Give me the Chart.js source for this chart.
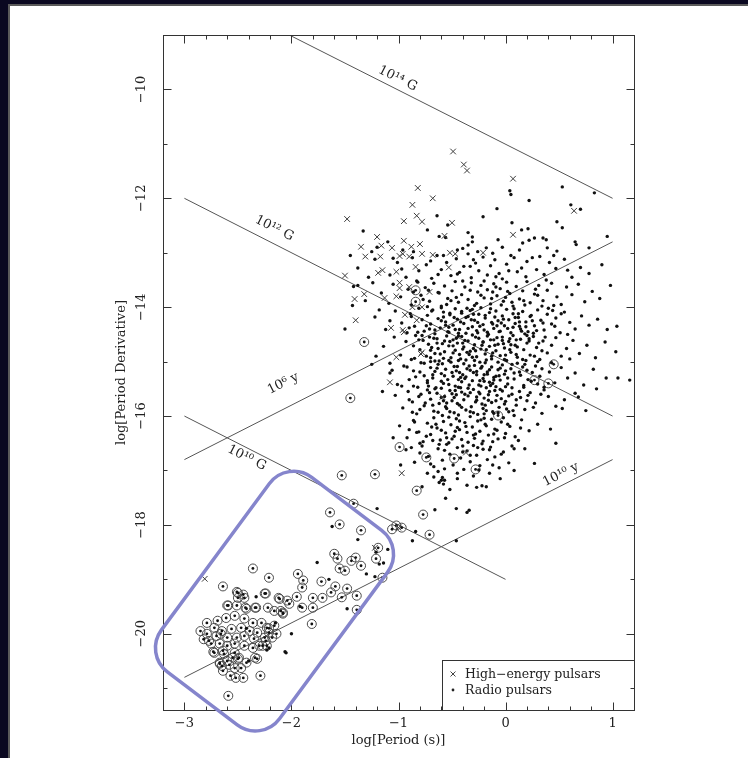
<!DOCTYPE html>
<html>
<head>
<meta charset="utf-8">
<title>P - Pdot diagram</title>
<script src="https://cdn.jsdelivr.net/npm/chart.js@4.4.0/dist/chart.umd.min.js"></script>
<style>
  html, body { margin: 0; padding: 0; width: 748px; height: 758px; overflow: hidden; background: #0a0820; }
  #panel { position: absolute; left: 8px; top: 4px; width: 740px; height: 754px; background: #fff;
           border-left: 2px solid #5a5a5a; border-top: 2px solid #5a5a5a; box-sizing: border-box; }
  canvas { display: block; }
</style>
</head>
<body>
<div id="panel"><canvas id="ppdot" width="738" height="752"></canvas></div>
<script>
// axes
const xRange = [-3.2, 1.2];
const yRange = [-21.4, -9.0];
const xTickValues = [-3, -2, -1, 0, 1];
const yTickValues = [-20, -18, -16, -14, -12, -10];

// magnetic field and age lines: [logP, logPdot] end points
const lineLabels = ['10\u00b9\u2074 G', '10\u00b9\u00b2 G', '10\u00b9\u2070 G', '10\u2076 y', '10\u00b9\u2070 y'];
const lineStarts = [[-2.02, -9.0], [-3.0, -12.0], [-3.0, -16.0], [-3.0, -16.8], [-3.0, -20.8]];
const lineEnds = [[1.0, -12.0], [1.0, -16.0], [0.0, -19.0], [1.0, -12.8], [1.0, -16.8]];
const labelAtLogP = [-1.05, -2.22, -2.38, -1.98, 0.56];

// high-energy pulsars (x)
const highEnergyPulsars = [
  [-0.49,-11.14],[-0.39,-11.38],[-0.36,-11.49],[0.07,-11.64],[-0.82,-11.81],[-0.68,-12.0],[-0.87,-12.12],
  [0.64,-12.23],[-1.48,-12.38],[-0.95,-12.42],[-0.83,-12.32],[-0.78,-12.43],[-0.5,-12.45],[0.07,-12.67],
  [-1.2,-12.71],[-1.35,-12.89],[-1.16,-12.87],[-1.06,-12.91],[-0.95,-12.78],[-0.88,-12.89],[-0.8,-12.84],
  [-0.99,-13.06],[-0.96,-13.02],[-1.31,-13.07],[-1.17,-13.07],[-0.9,-13.07],[-0.78,-13.02],[-0.68,-13.04],
  [-0.57,-12.69],[-0.52,-13.0],[-0.47,-13.02],[-0.21,-13.0],[-0.84,-13.26],[-1.15,-13.32],[-1.19,-13.37],
  [-1.5,-13.42],[-1.02,-13.35],[-0.53,-13.27],[-1.41,-13.85],[-1.32,-13.76],[-1.4,-14.24],[-1.07,-14.38],
  [-0.95,-14.46],[-1.02,-14.92],[-1.08,-15.38],[-0.99,-13.55],[-0.99,-13.65],[-1.02,-13.8],[-1.13,-13.83],
  [-0.9,-13.63],[-0.78,-14.0],[-0.71,-13.72],[-0.94,-14.14],[-0.78,-14.83],[-0.83,-14.24],[-0.97,-17.05],
  [-2.81,-18.99],[-0.37,-16.67],[-0.79,-14.86],[-0.96,-14.42],[-0.87,-14.0],[-0.59,-15.65],[-1.22,-18.42],
  [-1.0,-18.05]
];

// radio pulsars (dots)
const radioPulsars = [
  // upper sparse part
  [0.53,-11.79],[0.83,-11.9],[0.04,-11.86],[0.05,-11.93],[0.22,-12.04],[0.61,-12.12],[-0.08,-12.19],
  [-0.21,-12.34],[0.06,-12.45],[0.48,-12.43],[-0.64,-12.32],[-0.54,-12.49],[-0.35,-12.63],[-0.31,-12.71],
  [0.53,-12.54],[0.7,-12.2],
  [0.15,-12.58],[0.21,-12.56],[0.35,-12.73],[0.38,-12.76],[0.65,-12.8],[0.66,-12.85],[0.27,-12.73],
  [0.22,-12.77],[0.16,-12.82],[0.78,-12.91],[0.39,-12.91],[-0.03,-12.9],[-0.07,-12.76],[-0.18,-12.91],
  [-0.31,-12.8],[-0.35,-12.86],[-0.73,-12.58],[-0.62,-12.7],[-0.56,-12.72],[-1.1,-12.8],[-0.96,-12.95],
  [-0.86,-12.98],[0.95,-12.7],[-1.25,-12.98],[-0.45,-12.95],[0.48,-12.97],
  [-1.45,-13.05],[-1.33,-12.6],[-1.38,-13.6],[-1.5,-14.4],[-1.43,-13.97],[-1.2,-12.9],[-1.28,-13.45],[-1.18,-14.05],
  // -13.0 .. -13.5
  [-1.38,-13.28],[-1.22,-13.12],[-1.08,-13.41],[-1.01,-13.18],[-0.93,-13.45],[-0.87,-13.09],[-0.81,-13.33],
  [-0.74,-13.22],[-0.69,-13.47],[-0.64,-13.05],[-0.6,-13.31],[-0.55,-13.18],[-0.51,-13.42],[-0.46,-13.11],
  [-0.43,-13.36],[-0.39,-13.25],[-0.35,-13.02],[-0.32,-13.46],[-0.28,-13.19],[-0.25,-13.33],[-0.21,-13.08],
  [-0.17,-13.41],[-0.14,-13.24],[-0.1,-13.13],[-0.06,-13.38],[-0.03,-13.48],[0.01,-13.21],[0.05,-13.05],
  [0.08,-13.09],[0.11,-13.35],[0.15,-13.28],[0.19,-13.44],[0.25,-13.09],[0.29,-13.31],[0.32,-13.07],
  [0.36,-13.4],[0.41,-13.18],[0.47,-13.29],[0.55,-13.12],[0.62,-13.45],[0.7,-13.27],[0.78,-13.38],
  [0.9,-13.22],[-0.97,-13.3],[-0.3,-13.13],
  [-0.7,-13.15],[-0.45,-13.39],[-0.2,-13.52],[0.03,-13.33],[0.2,-13.16],[-0.58,-13.05],[-0.33,-13.25],
  [-0.09,-13.44],[0.38,-13.5],[-0.82,-13.54],[-0.26,-12.98],[0.13,-12.95],[0.58,-13.32],[-0.63,-13.4],
  [-0.12,-13.01],[0.45,-13.05],[-1.05,-13.1],[-0.4,-12.92],
  // -13.5 .. -14.0
  [-1.42,-13.62],[-1.31,-13.88],[-1.24,-13.55],[-1.16,-13.74],[-1.09,-13.93],[-1.05,-13.58],[-0.98,-13.81],
  [-0.91,-13.67],[-0.88,-13.96],[-0.83,-13.52],[-0.79,-13.78],[-0.75,-13.64],[-0.71,-13.89],[-0.67,-13.56],
  [-0.63,-13.73],[-0.6,-13.98],[-0.57,-13.61],[-0.54,-13.84],[-0.5,-13.7],[-0.47,-13.53],[-0.44,-13.91],
  [-0.41,-13.77],[-0.38,-13.63],[-0.35,-13.86],[-0.32,-13.55],[-0.29,-13.97],[-0.26,-13.72],[-0.23,-13.6],
  [-0.2,-13.83],[-0.17,-13.68],[-0.14,-13.94],[-0.11,-13.57],[-0.08,-13.79],[-0.05,-13.66],[-0.02,-13.89],
  [0.01,-13.54],[0.04,-13.75],[0.07,-13.98],[0.1,-13.62],[0.13,-13.85],[0.16,-13.7],[0.2,-13.53],
  [0.23,-13.92],[0.27,-13.76],[0.31,-13.6],[0.35,-13.88],[0.39,-13.69],[0.43,-13.56],[0.48,-13.81],
  [0.52,-13.95],[0.57,-13.63],[0.62,-13.77],[0.68,-13.58],[0.74,-13.9],[0.81,-13.71],[0.88,-13.84],
  [-0.73,-13.99],[-0.4,-13.52],[-0.12,-13.72],[0.18,-13.96],[-0.55,-13.95],[0.0,-13.82],[0.3,-13.78],
  [-0.86,-13.72],[0.45,-13.97],[0.98,-13.6],
  [-0.77,-13.86],[-0.52,-14.11],[-0.33,-13.69],[-0.14,-14.03],[0.06,-13.91],[0.23,-14.17],[-0.62,-13.74],
  [-0.41,-14.08],[-0.09,-13.63],[0.12,-14.12],[-0.27,-13.93],[-0.58,-14.18],[0.34,-13.98],[-0.46,-13.82],
  [-0.19,-14.15],[0.02,-13.71],[-0.69,-14.07],[0.28,-13.67],[-0.37,-14.19],[-0.04,-13.96],[0.44,-14.06],
  [-0.88,-14.17],[-0.23,-13.78],[0.17,-13.88],[-0.51,-13.88],[-0.13,-13.84],[0.09,-14.19],[-0.72,-13.69],
  [0.52,-14.12],[-0.31,-14.04],
  // -14.0 .. -14.5
  [-1.22,-14.18],[-1.12,-14.41],[-1.03,-14.07],[-0.97,-14.29],[-0.92,-14.47],[-0.89,-14.12],[-0.85,-14.35],
  [-0.81,-14.02],[-0.78,-14.23],[-0.76,-14.44],[-0.73,-14.15],[-0.7,-14.31],[-0.68,-14.05],[-0.66,-14.49],
  [-0.63,-14.21],[-0.61,-14.38],[-0.58,-14.09],[-0.56,-14.27],[-0.54,-14.45],[-0.52,-14.14],[-0.49,-14.33],
  [-0.47,-14.03],[-0.45,-14.22],[-0.43,-14.41],[-0.41,-14.11],[-0.39,-14.3],[-0.37,-14.48],[-0.35,-14.17],
  [-0.33,-14.06],[-0.31,-14.36],[-0.29,-14.24],[-0.27,-14.43],[-0.25,-14.13],[-0.23,-14.01],[-0.21,-14.32],
  [-0.19,-14.2],[-0.17,-14.46],[-0.15,-14.1],[-0.13,-14.28],[-0.11,-14.39],[-0.09,-14.07],[-0.07,-14.25],
  [-0.05,-14.44],[-0.03,-14.16],[-0.01,-14.34],[0.01,-14.04],[0.03,-14.23],[0.05,-14.47],[0.07,-14.12],
  [0.09,-14.3],[0.12,-14.19],[0.14,-14.4],[0.16,-14.08],[0.19,-14.27],[0.21,-14.45],[0.24,-14.15],
  [0.27,-14.34],[0.3,-14.05],[0.33,-14.24],[0.36,-14.42],[0.39,-14.13],[0.43,-14.31],[0.47,-14.2],
  [0.51,-14.47],[0.55,-14.09],[0.6,-14.28],[0.65,-14.4],[0.71,-14.16],[0.78,-14.33],[0.86,-14.22],
  [0.95,-14.41],[-0.6,-14.01],[-0.44,-14.48],[-0.26,-14.28],[-0.1,-14.18],[0.02,-14.39],[0.18,-14.49],
  [-0.71,-14.4],[-0.36,-14.02],[-0.2,-14.42],[0.08,-14.03],[-0.53,-14.37],[0.25,-14.25],[-0.82,-14.46],
  [0.4,-14.02],[-0.04,-14.29],[-0.48,-14.19],[0.13,-14.35],[-0.3,-14.13],[-1.08,-14.25],[1.04,-14.35],
  [-0.74,-14.34],[-0.57,-14.62],[-0.42,-14.27],[-0.28,-14.55],[-0.12,-14.31],[0.04,-14.58],[0.19,-14.36],
  [0.31,-14.66],[-0.66,-14.42],[-0.49,-14.71],[-0.35,-14.39],[-0.21,-14.64],[-0.06,-14.45],[0.11,-14.73],
  [0.26,-14.48],[-0.81,-14.6],[-0.6,-14.25],[-0.44,-14.53],[-0.3,-14.76],[-0.16,-14.5],[-0.02,-14.22],
  [0.15,-14.44],[0.37,-14.55],[-0.7,-14.79],[-0.53,-14.46],[-0.38,-14.61],[-0.24,-14.35],[-0.1,-14.7],
  [0.07,-14.37],[0.22,-14.62],[-0.9,-14.38],[-0.64,-14.66],[-0.47,-14.41],[-0.32,-14.23],[-0.18,-14.78],
  [-0.03,-14.61],[0.13,-14.27],[0.29,-14.43],[0.46,-14.35],[-0.78,-14.52],[-0.56,-14.33],[-0.4,-14.77],
  [-0.26,-14.47],[-0.08,-14.34],[0.05,-14.69],[0.2,-14.52],[0.58,-14.5],[-0.67,-14.57],[-0.14,-14.6],
  [0.35,-14.29],
  // -14.5 .. -15.0
  [-1.14,-14.72],[-1.04,-14.55],[-0.98,-14.88],[-0.93,-14.63],[-0.88,-14.96],[-0.84,-14.52],[-0.8,-14.78],
  [-0.77,-14.61],[-0.74,-14.9],[-0.71,-14.55],[-0.69,-14.74],[-0.66,-14.85],[-0.64,-14.58],[-0.62,-14.99],
  [-0.59,-14.67],[-0.57,-14.82],[-0.55,-14.53],[-0.53,-14.71],[-0.51,-14.93],[-0.49,-14.6],[-0.47,-14.79],
  [-0.45,-14.66],[-0.43,-14.87],[-0.41,-14.54],[-0.39,-14.73],[-0.37,-14.97],[-0.35,-14.62],[-0.33,-14.81],
  [-0.31,-14.51],[-0.29,-14.69],[-0.27,-14.91],[-0.25,-14.57],[-0.23,-14.77],[-0.21,-14.64],[-0.19,-14.86],
  [-0.17,-14.53],[-0.15,-14.72],[-0.13,-14.95],[-0.11,-14.6],[-0.09,-14.8],[-0.07,-14.68],[-0.05,-14.89],
  [-0.03,-14.55],[-0.01,-14.75],[0.01,-14.98],[0.03,-14.63],[0.05,-14.83],[0.07,-14.52],[0.09,-14.7],
  [0.11,-14.92],[0.14,-14.59],[0.17,-14.78],[0.2,-14.66],[0.23,-14.88],[0.26,-14.54],[0.29,-14.74],
  [0.32,-14.96],[0.35,-14.62],[0.39,-14.84],[0.43,-14.7],[0.47,-14.56],[0.52,-14.9],[0.57,-14.76],
  [0.63,-14.61],[0.69,-14.85],[0.76,-14.7],[0.84,-14.93],[0.93,-14.64],[-0.72,-14.68],[-0.58,-14.94],
  [-0.46,-14.57],[-0.34,-14.87],[-0.22,-14.7],[-0.08,-14.56],[0.04,-14.78],[0.16,-14.96],[-0.63,-14.76],
  [-0.4,-14.66],[-0.18,-14.97],[0.1,-14.6],[-0.52,-14.63],[-0.28,-14.8],[-0.02,-14.67],[0.22,-14.58],
  [-0.86,-14.71],[-0.7,-14.93],[0.34,-14.8],[-0.12,-14.84],[-0.44,-14.98],[0.6,-14.95],[1.03,-14.82],
  [-1.21,-14.9],
  // -15.0 .. -15.5
  [-1.08,-15.21],[-1.01,-15.42],[-0.95,-15.08],[-0.9,-15.33],[-0.86,-15.17],[-0.82,-15.47],[-0.79,-15.02],
  [-0.76,-15.26],[-0.73,-15.39],[-0.7,-15.11],[-0.68,-15.3],[-0.65,-15.48],[-0.63,-15.05],[-0.6,-15.22],
  [-0.58,-15.4],[-0.56,-15.14],[-0.54,-15.33],[-0.51,-15.01],[-0.49,-15.27],[-0.47,-15.45],[-0.45,-15.09],
  [-0.43,-15.2],[-0.41,-15.37],[-0.39,-15.04],[-0.37,-15.28],[-0.35,-15.49],[-0.33,-15.16],[-0.31,-15.35],
  [-0.29,-15.07],[-0.27,-15.24],[-0.25,-15.43],[-0.23,-15.12],[-0.21,-15.31],[-0.19,-15.02],[-0.17,-15.19],
  [-0.15,-15.38],[-0.13,-15.1],[-0.11,-15.29],[-0.09,-15.46],[-0.07,-15.15],[-0.05,-15.34],[-0.03,-15.06],
  [-0.01,-15.23],[0.02,-15.41],[0.05,-15.13],[0.08,-15.32],[0.11,-15.03],[0.14,-15.25],[0.17,-15.44],
  [0.2,-15.16],[0.24,-15.36],[0.28,-15.08],[0.32,-15.27],[0.36,-15.47],[0.41,-15.19],[0.46,-15.39],
  [0.52,-15.11],[0.58,-15.3],[0.65,-15.21],[0.73,-15.43],[0.82,-15.14],[-0.66,-15.18],[-0.53,-15.42],
  [-0.42,-15.29],[-0.3,-15.2],[-0.18,-15.48],[-0.06,-15.26],[0.06,-15.48],[-0.72,-15.45],[-0.48,-15.09],
  [-0.24,-15.35],[0.0,-15.17],[0.18,-15.05],[-0.6,-15.36],[-0.36,-15.13],[-0.12,-15.4],[-0.84,-15.28],
  [0.3,-15.41],[-0.44,-15.47],[-0.2,-15.24],[1.05,-15.3],[1.16,-15.34],[0.94,-15.3],[-1.06,-15.16],
  [-0.97,-15.45],[-1.08,-15.03],[-1.25,-15.05],
  [-0.76,-15.03],[-0.61,-14.86],[-0.46,-15.17],[-0.31,-14.92],[-0.17,-15.23],[-0.01,-14.96],[0.13,-15.19],
  [0.27,-14.9],[-0.68,-15.24],[-0.53,-14.98],[-0.38,-15.31],[-0.24,-15.01],[-0.09,-15.27],[0.06,-15.05],
  [0.21,-15.33],[-0.85,-14.94],[-0.64,-15.12],[-0.49,-14.84],[-0.34,-15.08],[-0.2,-15.36],[-0.05,-15.12],
  [0.1,-14.87],[0.34,-15.13],[-0.73,-15.35],[-0.57,-15.26],[-0.42,-14.95],[-0.27,-15.18],[-0.13,-14.9],
  [0.02,-15.3],[0.16,-15.1],[-0.92,-15.1],[-0.66,-14.99],[-0.5,-15.2],[-0.36,-14.83],[-0.22,-15.09],
  [-0.07,-15.01],[0.08,-15.21],[0.25,-15.2],[0.43,-15.02],[-0.8,-15.19],[-0.59,-15.04],[-0.44,-15.33],
  [-0.29,-14.98],[-0.15,-15.15],[0.0,-14.88],[0.19,-14.98],[-0.7,-15.0],[-0.4,-15.24],[-0.11,-15.34],
  [0.3,-15.0],
  // -15.5 .. -16.0
  [-1.03,-15.62],[-0.96,-15.85],[-0.91,-15.55],[-0.87,-15.74],[-0.83,-15.96],[-0.79,-15.6],[-0.76,-15.81],
  [-0.73,-15.52],[-0.7,-15.69],[-0.67,-15.91],[-0.64,-15.58],[-0.62,-15.77],[-0.59,-15.99],[-0.57,-15.64],
  [-0.55,-15.86],[-0.52,-15.53],[-0.5,-15.72],[-0.48,-15.94],[-0.46,-15.61],[-0.43,-15.8],[-0.41,-15.56],
  [-0.39,-15.7],[-0.37,-15.89],[-0.35,-15.63],[-0.32,-15.83],[-0.3,-15.51],[-0.28,-15.74],[-0.26,-15.97],
  [-0.24,-15.59],[-0.22,-15.78],[-0.2,-15.67],[-0.18,-15.9],[-0.15,-15.55],[-0.13,-15.75],[-0.11,-15.95],
  [-0.08,-15.62],[-0.06,-15.84],[-0.03,-15.54],[0.0,-15.73],[0.03,-15.92],[0.06,-15.6],[0.1,-15.8],
  [0.14,-15.66],[0.18,-15.88],[0.23,-15.57],[0.28,-15.76],[0.34,-15.95],[0.4,-15.64],[0.47,-15.82],
  [0.55,-15.7],[-0.8,-15.88],[-0.6,-15.66],[-0.44,-15.98],[-0.33,-15.57],[-0.21,-15.86],[-0.04,-15.68],
  [0.08,-15.99],[-0.68,-15.8],[-0.5,-15.59],[-0.16,-15.71],[0.2,-15.72],[-0.9,-15.7],[-0.27,-15.65],
  [0.01,-15.87],[0.33,-15.6],[-0.55,-15.76],[-0.1,-15.53],[0.65,-15.58],[0.75,-15.9],[0.68,-15.65],
  [0.85,-15.5],[0.53,-15.86],[-1.15,-15.55],[-0.87,-15.93],
  [-0.71,-15.57],[-0.56,-15.83],[-0.42,-15.48],[-0.27,-15.71],[-0.12,-15.92],[0.03,-15.63],[0.17,-15.47],
  [-0.63,-15.93],[-0.48,-15.66],[-0.34,-15.43],[-0.19,-15.8],[-0.05,-15.51],[0.1,-15.7],[-0.81,-15.64],
  [-0.6,-15.49],[-0.45,-15.77],[-0.3,-15.94],[-0.16,-15.61],[-0.01,-15.78],[0.13,-15.55],[0.26,-15.84],
  [-0.75,-15.76],[-0.52,-15.92],[-0.38,-15.6],[-0.23,-15.45],[-0.09,-15.72],[0.07,-15.9],[-0.66,-15.5],
  [-0.41,-15.84],[-0.25,-15.56],[-0.14,-15.44],[0.21,-15.62],[-0.58,-15.72],[-0.33,-15.92],[-0.07,-15.94],
  [-0.86,-15.45],[0.36,-15.52],[-0.47,-15.53],[-0.2,-15.96],[0.0,-15.46],
  // -16.0 .. -16.5
  [-0.99,-16.18],[-0.92,-16.4],[-0.86,-16.08],[-0.81,-16.29],[-0.77,-16.47],[-0.73,-16.13],[-0.7,-16.34],
  [-0.67,-16.03],[-0.64,-16.22],[-0.61,-16.44],[-0.58,-16.1],[-0.56,-16.31],[-0.53,-16.49],[-0.51,-16.16],
  [-0.48,-16.37],[-0.46,-16.05],[-0.43,-16.25],[-0.41,-16.43],[-0.38,-16.12],[-0.36,-16.3],[-0.33,-16.01],
  [-0.31,-16.2],[-0.29,-16.41],[-0.26,-16.09],[-0.24,-16.28],[-0.21,-16.46],[-0.19,-16.15],[-0.16,-16.35],
  [-0.13,-16.06],[-0.1,-16.24],[-0.07,-16.42],[-0.04,-16.11],[0.0,-16.32],[0.04,-16.19],[0.09,-16.38],
  [0.15,-16.07],[0.22,-16.27],[0.3,-16.15],[-0.6,-16.26],[-0.45,-16.21],[-0.28,-16.33],[-0.12,-16.47],
  [-0.68,-16.45],[-0.35,-16.48],[0.12,-16.45],[-0.2,-16.04],[-0.53,-16.02],[-0.9,-16.25],[-0.02,-16.03],
  [0.42,-16.24],[0.47,-16.5],[-0.85,-16.11],[-0.83,-16.3],[-1.05,-16.4],
  [-0.65,-16.15],[-0.5,-16.42],[-0.37,-16.19],[-0.22,-16.51],[-0.08,-16.26],[0.06,-16.55],[-0.74,-16.37],
  [-0.57,-16.63],[-0.43,-16.09],[-0.3,-16.35],[-0.15,-16.62],[-0.01,-16.4],[0.14,-16.22],[-0.8,-16.68],
  [-0.62,-16.52],[-0.47,-16.28],[-0.33,-16.72],[-0.18,-16.18],[-0.04,-16.7],[-0.55,-16.4],[-0.26,-16.58],
  [-0.11,-16.33],[-0.69,-16.2],[-0.4,-16.55],[0.02,-16.15],[-0.88,-16.58],[-0.23,-16.07],[0.18,-16.6],
  // -16.5 .. -17.0
  [-0.93,-16.62],[-0.85,-16.85],[-0.78,-16.55],[-0.72,-16.74],[-0.67,-16.93],[-0.63,-16.6],[-0.59,-16.81],
  [-0.55,-16.52],[-0.52,-16.7],[-0.49,-16.9],[-0.45,-16.58],[-0.42,-16.77],[-0.39,-16.98],[-0.36,-16.64],
  [-0.33,-16.84],[-0.3,-16.54],[-0.27,-16.72],[-0.24,-16.91],[-0.21,-16.61],[-0.17,-16.8],[-0.14,-16.57],
  [-0.1,-16.75],[-0.06,-16.95],[-0.02,-16.66],[0.03,-16.86],[0.08,-16.6],[-0.57,-16.97],[-0.4,-16.66],
  [-0.25,-16.99],[-0.12,-16.9],[-0.7,-16.88],[0.27,-16.87],[0.08,-17.0],[-0.98,-16.9],[-0.8,-16.5],
  // below -17
  [-0.73,-17.05],[-0.67,-17.12],[-0.63,-17.02],[-0.6,-17.18],[-0.58,-17.25],[-0.62,-17.22],[-0.45,-17.05],
  [-0.45,-17.15],[-0.36,-17.27],[-0.27,-17.31],[-0.22,-17.28],[-0.18,-17.3],[-0.56,-17.51],[-0.46,-17.7],
  [-0.36,-17.77],[-0.34,-17.73],[-0.66,-17.72],[-0.84,-18.12],[-0.87,-18.29],[-0.46,-18.29],[-0.52,-17.35],
  [-0.3,-17.1],[-0.15,-17.05],[-0.05,-17.15],[-0.78,-17.3],[-0.59,-17.13],[-0.57,-17.18],
  // lower left
  [-1.62,-18.03],[-1.38,-18.27],[-1.2,-17.7],[-1.76,-18.69],[-1.21,-18.5],[-1.14,-18.7],[-1.18,-18.72],
  [-2.33,-19.32],[-2.06,-20.33],[-2.21,-20.26],[-1.48,-19.54],[-1.92,-19.5],[-2.42,-19.9],[-2.15,-19.8],
  [-1.22,-18.95],[-2.0,-20.0],[-1.1,-18.45],[-2.4,-20.5],[-1.65,-19.0],[-1.3,-18.9],[-2.23,-20.3],
  [-2.05,-20.35]
];

// binary radio pulsars (circled dots)
const binaryPulsars = [
  [-0.84,-13.69],[-0.84,-13.9],[-1.32,-14.64],[-1.45,-15.67],[0.45,-15.05],[0.27,-15.34],[0.4,-15.4],
  [-0.07,-15.99],[-0.99,-16.57],[-0.74,-16.76],[-0.48,-16.78],[-0.28,-16.98],[-0.83,-17.37],[-1.53,-17.09],
  [-1.22,-17.07],[-0.77,-17.81],[-1.06,-18.08],[-1.02,-18.01],[-0.97,-18.05],[-0.71,-18.18],[-1.42,-17.61],
  [-1.64,-17.77],[-1.55,-17.99],[-1.35,-18.1],[-1.19,-18.42],[-1.6,-18.53],[-1.57,-18.62],[-1.21,-18.62],
  [-1.44,-18.66],[-1.4,-18.6],[-1.35,-18.75],[-1.55,-18.8],[-1.5,-18.84],[-2.36,-18.8],[-1.94,-18.9],
  [-2.21,-18.97],[-1.89,-19.02],[-1.9,-19.15],[-2.64,-19.13],[-1.72,-19.04],[-1.59,-19.13],[-1.48,-19.17],
  [-1.63,-19.24],[-1.53,-19.33],[-1.39,-19.3],[-1.15,-18.97],[-2.24,-19.26],[-2.51,-19.23],[-2.5,-19.34],
  [-2.45,-19.28],[-2.12,-19.34],[-2.04,-19.39],[-1.95,-19.32],[-1.8,-19.34],[-1.71,-19.34],[-2.59,-19.48],
  [-2.43,-19.52],[-2.34,-19.52],[-2.22,-19.52],[-2.1,-19.58],[-2.08,-19.63],[-1.9,-19.52],[-1.8,-19.52],
  [-1.39,-19.56],[-1.81,-19.82],
  [-2.5,-19.25],[-2.25,-19.26],[-2.44,-19.34],[-2.11,-19.36],[-2.02,-19.45],[-2.6,-19.48],[-2.51,-19.48],
  [-2.42,-19.54],[-2.33,-19.52],[-2.16,-19.58],[-2.08,-19.61],[-2.79,-19.8],[-2.69,-19.76],[-2.61,-19.71],
  [-2.53,-19.67],[-2.44,-19.72],[-2.36,-19.8],[-2.28,-19.8],[-2.23,-19.89],[-2.16,-19.85],[-2.72,-19.89],
  [-2.65,-19.95],[-2.56,-19.91],[-2.47,-19.89],[-2.39,-19.95],[-2.32,-19.98],[-2.21,-19.98],[-2.79,-20.0],
  [-2.7,-20.04],[-2.6,-20.07],[-2.51,-20.07],[-2.44,-20.04],[-2.35,-20.09],[-2.25,-20.07],[-2.18,-20.07],
  [-2.77,-20.13],[-2.67,-20.18],[-2.6,-20.22],[-2.53,-20.18],[-2.44,-20.22],[-2.36,-20.26],[-2.27,-20.22],
  [-2.72,-20.35],[-2.63,-20.37],[-2.53,-20.35],[-2.6,-20.5],[-2.5,-20.46],[-2.42,-20.53],[-2.67,-20.53],
  [-2.32,-20.46],[-2.53,-20.63],[-2.65,-20.59],
  [-2.66,-20.0],[-2.75,-20.18],[-2.64,-20.31],[-2.73,-20.33],[-2.55,-20.44],[-2.49,-20.44],[-2.67,-20.55],
  [-2.58,-20.57],[-2.47,-20.63],[-2.34,-20.44],[-2.64,-20.68],[-2.57,-20.77],[-2.52,-20.81],[-2.45,-20.81],
  [-2.29,-20.77],[-2.59,-21.14],[-2.14,-20.0],[-2.24,-20.13],[-2.23,-20.22],[-2.3,-20.22],[-2.21,-19.9],
  [-2.85,-19.95],[-2.82,-20.1]
];

// highlighted region (corners, data units)
const boxCorners = [[-2.037, -16.79], [-0.937, -18.43], [-2.28, -22.01], [-3.38, -20.37]];

const SERIF = '"DejaVu Serif", "Liberation Serif", serif';
const INK = '#222';

function toXY(list) {
    return list.map(p => ({x: p[0], y: p[1]}));
}

function minusSign(v) {
    return String(v).replace('-', '\u2212');
}

// frame with inward ticks, line labels, legend box and highlight
const plotDecor = {
    id: 'plotDecor',
    afterDatasetsDraw(chart) {
        const ctx = chart.ctx;
        const a = chart.chartArea;
        const xs = chart.scales.x;
        const ys = chart.scales.y;
        ctx.save();

        // labels along the field / age lines (negative offset = below the line)
        ctx.fillStyle = INK;
        ctx.font = '13px ' + SERIF;
        ctx.textAlign = 'center';
        ctx.textBaseline = 'middle';
        const labelOffset = [10, 14, -9, 23, 10];
        lineLabels.forEach((txt, i) => {
            const p0 = lineStarts[i], p1 = lineEnds[i];
            const x0 = xs.getPixelForValue(p0[0]), y0 = ys.getPixelForValue(p0[1]);
            const x1 = xs.getPixelForValue(p1[0]), y1 = ys.getPixelForValue(p1[1]);
            const t = (labelAtLogP[i] - p0[0]) / (p1[0] - p0[0]);
            ctx.save();
            ctx.translate(x0 + t * (x1 - x0), y0 + t * (y1 - y0));
            ctx.rotate(Math.atan2(y1 - y0, x1 - x0));
            ctx.fillText(txt, 0, -labelOffset[i]);
            ctx.restore();
        });

        // legend box, bottom right inside the frame
        const lw = 192, lh = 50;
        const lx = a.right - lw, ly = a.bottom - lh;
        ctx.fillStyle = '#fff';
        ctx.fillRect(lx, ly, lw, lh);
        ctx.strokeStyle = '#333';
        ctx.lineWidth = 1;
        ctx.strokeRect(Math.round(lx) + 0.5, Math.round(ly) + 0.5, lw, lh);
        ctx.font = '12.5px ' + SERIF;
        ctx.textAlign = 'left';
        ctx.fillStyle = INK;
        const rows = [chart.data.datasets[0], chart.data.datasets[1]];
        rows.forEach((ds, i) => {
            const cy = ly + 14 + i * 16;
            const cx = lx + 11;
            ctx.strokeStyle = '#444';
            if (i === 0) {
                ctx.beginPath();
                ctx.moveTo(cx - 2.5, cy - 2.5); ctx.lineTo(cx + 2.5, cy + 2.5);
                ctx.moveTo(cx + 2.5, cy - 2.5); ctx.lineTo(cx - 2.5, cy + 2.5);
                ctx.stroke();
            } else {
                ctx.beginPath();
                ctx.arc(cx, cy, 1.4, 0, Math.PI * 2);
                ctx.fillStyle = '#222';
                ctx.fill();
            }
            ctx.fillStyle = INK;
            ctx.fillText(ds.label, lx + 23, cy + 1);
        });

        // frame
        ctx.strokeStyle = '#333';
        ctx.lineWidth = 1;
        const L = Math.round(a.left) + 0.5, R = Math.round(a.right) + 0.5;
        const T = Math.round(a.top) + 0.5, B = Math.round(a.bottom) + 0.5;
        ctx.strokeRect(L, T, R - L, B - T);

        // inward ticks on all four sides
        ctx.beginPath();
        for (let k = Math.ceil(xRange[0] * 5); k <= Math.floor(xRange[1] * 5); k++) {
            const v = k / 5;
            const len = (k % 5 === 0) ? 8 : 4;
            const px = Math.round(xs.getPixelForValue(v)) + 0.5;
            ctx.moveTo(px, B); ctx.lineTo(px, B - len);
            ctx.moveTo(px, T); ctx.lineTo(px, T + len);
        }
        for (let v = Math.ceil(yRange[0]); v <= Math.floor(yRange[1]); v++) {
            const len = (v % 2 === 0) ? 8 : 4;
            const py = Math.round(ys.getPixelForValue(v)) + 0.5;
            ctx.moveTo(L, py); ctx.lineTo(L + len, py);
            ctx.moveTo(R, py); ctx.lineTo(R - len, py);
        }
        ctx.stroke();
        ctx.restore();
    },
    afterDraw(chart) {
        // rounded highlight around the millisecond pulsars
        const ctx = chart.ctx;
        const xs = chart.scales.x;
        const ys = chart.scales.y;
        const pts = boxCorners.map(c => [xs.getPixelForValue(c[0]), ys.getPixelForValue(c[1])]);
        const r = 30;
        ctx.save();
        ctx.strokeStyle = '#8585cc';
        ctx.lineWidth = 3.5;
        ctx.beginPath();
        const n = pts.length;
        const last = pts[n - 1], first = pts[0];
        ctx.moveTo((last[0] + first[0]) / 2, (last[1] + first[1]) / 2);
        for (let i = 0; i < n; i++) {
            const c = pts[i], nx = pts[(i + 1) % n];
            ctx.arcTo(c[0], c[1], nx[0], nx[1], r);
        }
        ctx.closePath();
        ctx.stroke();
        ctx.restore();
    }
};

const lineDatasets = lineLabels.map((lab, i) => ({
    type: 'line',
    label: lab,
    data: toXY([lineStarts[i], lineEnds[i]]),
    showLine: true,
    borderColor: '#555',
    borderWidth: 1,
    pointRadius: 0,
    fill: false
}));

new Chart(document.getElementById('ppdot'), {
    type: 'scatter',
    data: {
        datasets: [
            {
                label: 'High\u2212energy pulsars',
                data: toXY(highEnergyPulsars),
                pointStyle: 'crossRot',
                pointRadius: 4,
                borderColor: '#3a3a3a',
                borderWidth: 1
            },
            {
                label: 'Radio pulsars',
                data: toXY(radioPulsars),
                pointStyle: 'circle',
                pointRadius: 1.7,
                backgroundColor: '#111',
                borderWidth: 0
            },
            {
                label: 'Binary (centre)',
                data: toXY(binaryPulsars),
                pointStyle: 'circle',
                pointRadius: 1.4,
                backgroundColor: '#111',
                borderWidth: 0
            },
            {
                label: 'Binary (ring)',
                data: toXY(binaryPulsars),
                pointStyle: 'circle',
                pointRadius: 4.5,
                backgroundColor: 'rgba(255,255,255,0)',
                borderColor: '#4a4a4a',
                borderWidth: 1
            },
            ...lineDatasets
        ]
    },
    options: {
        responsive: false,
        animation: false,
        devicePixelRatio: 1,
        layout: {
            padding: {left: 104, top: 29, right: 114, bottom: 0}
        },
        plugins: {
            legend: {display: false},
            tooltip: {enabled: false}
        },
        scales: {
            x: {
                type: 'linear',
                min: xRange[0],
                max: xRange[1],
                afterBuildTicks: s => { s.ticks = xTickValues.map(v => ({value: v})); },
                afterFit: s => { s.height = 48; },
                grid: {display: false, drawTicks: false},
                border: {display: false},
                ticks: {
                    padding: 6,
                    color: INK,
                    font: {family: SERIF, size: 13},
                    callback: v => minusSign(v)
                },
                title: {
                    display: true,
                    text: 'log[Period (s)]',
                    color: INK,
                    font: {family: SERIF, size: 13},
                    padding: {top: 10, bottom: 10}
                }
            },
            y: {
                type: 'linear',
                min: yRange[0],
                max: yRange[1],
                afterBuildTicks: s => { s.ticks = yTickValues.map(v => ({value: v})); },
                afterFit: s => { s.width = 49; },
                grid: {display: false, drawTicks: false},
                border: {display: false},
                ticks: {
                    minRotation: 90,
                    maxRotation: 90,
                    crossAlign: 'center',
                    padding: 8,
                    color: INK,
                    font: {family: SERIF, size: 13},
                    callback: v => minusSign(v)
                },
                title: {
                    display: true,
                    text: 'log[Period Derivative]',
                    color: INK,
                    font: {family: SERIF, size: 13},
                    padding: {top: 0, bottom: 0}
                }
            }
        }
    },
    plugins: [plotDecor]
});
</script>
</body>
</html>
